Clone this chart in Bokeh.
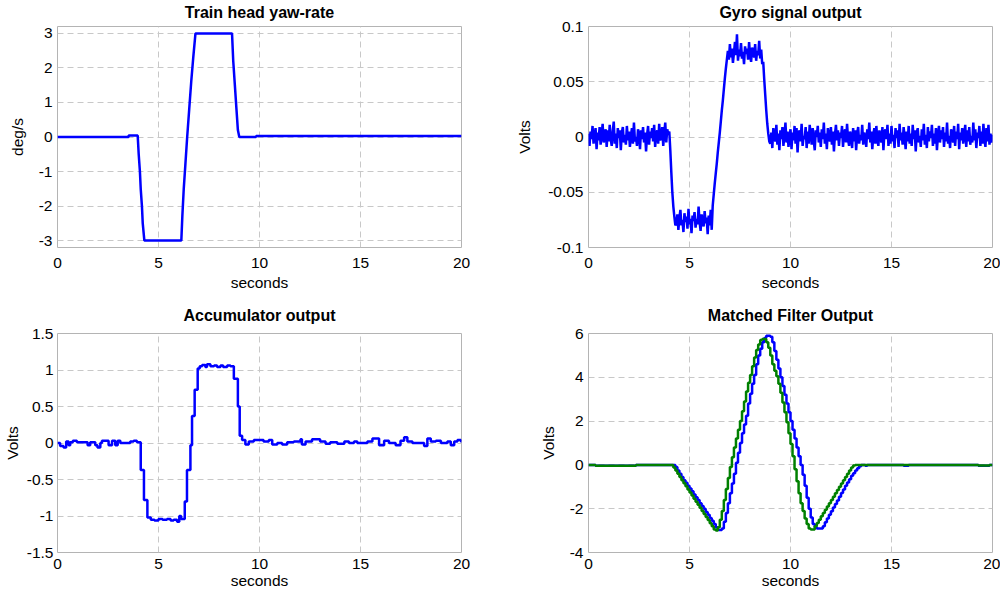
import numpy as np
from bokeh.plotting import figure
from bokeh.layouts import column, row
from bokeh.models import FixedTicker, LinearAxis
from bokeh.embed import file_html
from bokeh.resources import INLINE

# ---------------- data ----------------
x_ticks = [0, 5, 10, 15, 20]

# Train head yaw-rate (deg/s)
yaw_t = [0, 3.52, 3.52, 3.97, 4.02, 4.08, 4.12, 4.18, 4.22, 4.30,
         6.13, 6.18, 6.25, 6.33, 6.42, 6.52, 6.62, 6.72, 6.83, 8.64,
         8.70, 8.78, 8.86, 8.93, 9.0, 9.83, 9.83, 20]
yaw_v = [0, 0, 0.04, 0.04, -0.5, -1.0, -1.5, -2.0, -2.5, -3.0,
         -3.0, -2.3, -1.5, -0.8, 0.0, 0.8, 1.6, 2.3, 3.0, 3.0,
         2.2, 1.5, 0.8, 0.2, 0.0, 0.0, 0.03, 0.03]
yaw_ticks = [-3, -2, -1, 0, 1, 2, 3]
yaw_labels = ["-3", "-2", "-1", "0", "1", "2", "3"]

# Gyro signal output (mV), sampled evenly over 0..20 s
gyro_mv = [
    3, -8, 5, -2, 10, -6, 1, 8, -11, 4,
    -3, 9, -7, 2, 12, -5, 0, 7, -9, 6,
    -4, 11, -2, -8, 5, 14, -6, 3, -10, 8,
    -1, 6, -12, 4, 9, -5, 2, -7, 10, -3,
    5, -9, 1, 8, -6, 13, -4, 0, -8, 7,
    3, -11, 6, -2, 9, -5, 4, -13, 2, 10,
    -7, 5, -1, 8, -4, 11, -9, 3, 6, -6,
    12, -3, 0, 9, -8, 4, 13, -5, 7, 2,
    5, -12, -32, -50, -63, -72, -80,
    -78, -70, -84, -73, -66, -80, -75, -86, -69, -77,
    -72, -83, -65, -79, -74, -87, -71, -76, -68, -82,
    -74, -79, -63, -77, -85, -70, -76, -81, -67, -78,
    -73, -88, -71, -80, -66, -84,
    -62, -52, -42, -33, -24, -14, -5, 4, 14, 24, 33, 43, 53, 62, 70,
    78, 70, 84, 72, 80, 67, 76, 86, 74, 93,
    69, 79, 73, 85, 71, 77, 66, 82, 75, 80,
    70, 86, 74, 68, 81, 76, 72, 84, 69, 78,
    74, 87, 71, 79, 66,
    68, 52, 38, 24, 12, 3, -4,
    -6, 4, -10, 8, 1, -4, 11, -7, 3, -12,
    6, -2, 9, -8, 2, 13, -5, 5, -9, 0,
    7, -11, 4, -3, 10, -6, 8, -14, 3, 6,
    -4, 12, -8, 1, -2, 9, -10, 5, -6, 11,
    2, -7, 8, -3, -12, 6, 0, 10, -5, 4,
    -9, 7, -2, 13, -6, 3, -11, 8, 1, -4,
    9, -7, 5, -13, 2, 11, -3, 6, -8, 4,
    -1, 10, -9, 3, 7, -5, 12, -2, -8, 5,
    1, -10, 8, -4, 6, -12, 3, 9, -6, 2,
    -3, 11, -7, 4, 0, -9, 7, -2, 13, -5,
    5, -11, 2, 8, -6, 10, -3, -8, 6, 1,
    -5, 9, -12, 4, 7, -2, 11, -8, 3, -6,
    10, -4, 2, -10, 8, -1, 6, -9, 12, -3,
    4, -7, 9, 0, -11, 5, -4, 10, -6, 3,
    -8, 11, -2, 6, -13, 4, 8, -5, 1, -9,
    7, -3, 12, -7, 2, -10, 9, -4, 5, -1,
    11, -8, 3, -6, 8, -12, 2, 10, -5, 6,
    -2, 9, -9, 4, -4, 13, -6, 1, -10, 7,
    3, -5, 10, -8, 5, -2, 12, -11, 4, -3,
    8, -6, 2, 11, -9, 6, -4, 9, -7, 1,
    -5, 13, -3, 7, -10, 4, -1, 10, -8, 5,
    -6, 12, -2, -9, 8, -4, 11, -7, 3, -5,
    2,
]
gyro_ticks = [-0.1, -0.05, 0, 0.05, 0.1]
gyro_labels = ["-0.1", "-0.05", "0", "0.05", "0.1"]

# Accumulator output (V), step breakpoints
acc_t = [0.00, 0.13, 0.30, 0.43, 0.55, 0.63, 0.76, 0.96, 1.49, 1.62,
         1.87, 1.98, 2.12, 2.20, 2.53, 2.70, 2.86, 2.98, 3.11, 3.60,
         3.77, 3.93, 4.12, 4.28, 4.45, 4.62, 4.80, 5.00, 5.20, 5.42,
         5.60, 5.75, 5.92, 6.03, 6.12, 6.30, 6.41, 6.58, 6.66, 6.79,
         6.94, 7.04, 7.16, 7.32, 7.40, 7.57, 7.75, 7.90, 8.07, 8.20,
         8.40, 8.56, 8.73, 8.93, 9.02, 9.14, 9.30, 9.47, 9.72, 10.20,
         10.46, 10.63, 10.88, 11.12, 11.37, 11.70, 12.03, 12.10, 12.28, 12.60,
         13.00, 13.27, 13.50, 13.85, 14.20, 14.43, 14.68, 14.84, 15.34, 15.59,
         15.92, 16.17, 16.41, 16.74, 16.98, 17.16, 17.32, 17.57, 17.90, 18.15,
         18.31, 18.48, 18.73, 18.98, 19.30, 19.47, 19.64, 19.80, 19.97, 20.00]
acc_v = [0.00, -0.04, -0.06, 0.02, -0.03, 0.01, 0.03, 0.01, -0.03, 0.01,
         -0.03, -0.06, 0.00, 0.03, -0.03, 0.03, -0.03, 0.03, 0.00, 0.02,
         0.03, 0.01, -0.37, -0.78, -1.02, -1.05, -1.06, -1.04, -1.05, -1.04,
         -1.06, -1.05, -1.08, -1.00, -1.04, -0.80, -0.37, -0.03, 0.37, 0.73,
         1.02, 1.05, 1.07, 1.04, 1.08, 1.05, 1.06, 1.04, 1.06, 1.04,
         1.06, 1.05, 0.88, 0.50, 0.10, 0.04, -0.02, 0.02, 0.04, 0.02,
         0.04, -0.02, 0.00, -0.02, 0.01, 0.02, 0.05, -0.02, 0.02, 0.05,
         0.02, -0.01, 0.01, -0.01, 0.02, 0.00, 0.02, 0.00, 0.02, 0.06,
         -0.03, 0.03, 0.00, -0.03, 0.03, 0.08, 0.02, 0.00, 0.00, -0.04,
         0.06, 0.02, 0.03, 0.00, 0.02, -0.03, 0.02, 0.04, 0.02, 0.02]
acc_ticks = [-1.5, -1, -0.5, 0, 0.5, 1, 1.5]
acc_labels = ["-1.5", "-1", "-0.5", "0", "0.5", "1", "1.5"]

# Matched filter output (V): head, 0.1 s grid from 4.0 to 14.0, tail
mf_head_t = [0.0, 0.35, 2.35]
mf_head_blue = [0.0, -0.04, 0.0]
mf_head_green = [0.0, -0.04, 0.0]
mf_grid_start, mf_grid_step = 4.0, 0.1
mf_blue = [
    0.0, 0.0, 0.0, -0.1, -0.25, -0.4, -0.55, -0.7, -0.82, -0.95,
    -1.08, -1.2, -1.35, -1.48, -1.6, -1.75, -1.88, -2.0, -2.15, -2.28,
    -2.42, -2.55, -2.7, -2.85, -2.97, -2.97, -2.9, -2.6, -2.2, -1.75,
    -1.3, -0.85, -0.4, 0.1, 0.55, 1.0, 1.45, 1.85, 2.25, 2.8,
    3.25, 3.7, 4.1, 4.6, 5.0, 5.3, 5.6, 5.8, 5.9, 5.9,
    5.85, 5.6, 5.2, 4.8, 4.4, 4.0, 3.6, 3.2, 2.8, 2.4,
    2.0, 1.6, 1.2, 0.8, 0.4, 0.0, -0.45, -0.95, -1.5, -2.0,
    -2.4, -2.7, -2.85, -2.9, -2.9, -2.9, -2.8, -2.62, -2.45, -2.28,
    -2.12, -1.95, -1.78, -1.62, -1.45, -1.28, -1.12, -0.95, -0.8, -0.65,
    -0.5, -0.38, -0.26, -0.15, -0.06, 0.0, 0.0, -0.04, 0.0, 0.0,
    0.0,
]
mf_green = [
    0.0, 0.0, -0.12, -0.26, -0.4, -0.55, -0.7, -0.84, -0.98, -1.12,
    -1.26, -1.4, -1.54, -1.68, -1.82, -1.96, -2.1, -2.24, -2.38, -2.52,
    -2.66, -2.8, -2.95, -3.0, -2.85, -2.5, -2.1, -1.6, -1.1, -0.6,
    -0.1, 0.35, 0.8, 1.2, 1.6, 2.0, 2.45, 2.9, 3.35, 3.75,
    4.1, 4.5, 4.9, 5.25, 5.5, 5.7, 5.75, 5.75, 5.6, 5.35,
    5.0, 4.6, 4.3, 4.05, 3.7, 3.3, 2.85, 2.4, 1.95, 1.45,
    0.95, 0.4, -0.2, -0.75, -1.3, -1.75, -2.1, -2.45, -2.7, -2.9,
    -2.95, -2.95, -2.8, -2.65, -2.5, -2.35, -2.2, -2.05, -1.9, -1.75,
    -1.6, -1.45, -1.3, -1.15, -1.0, -0.85, -0.7, -0.55, -0.4, -0.25,
    -0.12, -0.03, 0.0, 0.0, 0.0, 0.0, 0.0, 0.0, 0.0, 0.0,
    0.0,
]
mf_tail_t = [15.6, 15.85, 19.3, 19.85, 20.0]
mf_tail_blue = [-0.04, 0.0, -0.04, 0.0, 0.0]
mf_tail_green = [0.0, 0.0, -0.03, 0.0, 0.0]
mf_ticks = [-4, -2, 0, 2, 4, 6]
mf_labels = ["-4", "-2", "0", "2", "4", "6"]

titles = ["Train head yaw-rate", "Gyro signal output",
          "Accumulator output", "Matched Filter Output"]

# ---------------- styling ----------------
FONT = "Liberation Sans"
BLUE = "#0000ff"
GREEN = "#008000"
GRID = "#c8c8c8"
BOX = "#b4b4b4"
TICK_FS = "15.5px"


def key(v):
    return int(v) if float(v).is_integer() else float(v)


def make_fig(title, width, height, bl, br, bt, bb, yr, yticks, ylabels, ylabel,
             title_gap, label_standoff=10, tick_standoff=5,
             x_tick_standoff=4, x_label_standoff=4):
    p = figure(width=width, height=height, x_range=(0, 20), y_range=yr,
               toolbar_location=None, output_backend="svg",
               min_border_left=bl, min_border_right=br,
               min_border_top=bt, min_border_bottom=bb)
    p.background_fill_color = "white"
    p.border_fill_color = "white"
    # panel title: label of a tick-less axis above the box, title_gap px from it
    tax = LinearAxis(ticker=FixedTicker(ticks=[]), axis_label=title,
                     axis_line_color=None, major_tick_line_color=None,
                     minor_tick_line_color=None,
                     major_tick_out=0, major_tick_in=0,
                     minor_tick_out=0, minor_tick_in=0,
                     major_label_standoff=0, axis_label_standoff=title_gap,
                     axis_label_text_font=FONT, axis_label_text_font_size="16px",
                     axis_label_text_font_style="bold",
                     axis_label_text_color="black")
    p.add_layout(tax, "above")
    xax = p.below[0]
    yax = p.left[0]
    xax.ticker = FixedTicker(ticks=x_ticks)
    xax.major_label_overrides = {key(v): str(v) for v in x_ticks}
    yax.ticker = FixedTicker(ticks=yticks)
    yax.major_label_overrides = {key(v): s for v, s in zip(yticks, ylabels)}
    xax.axis_label = "seconds"
    yax.axis_label = ylabel
    for ax in (xax, yax):
        ax.axis_line_color = None
        ax.major_tick_line_color = None
        ax.minor_tick_line_color = None
        ax.major_tick_out = 0
        ax.major_tick_in = 0
        ax.minor_tick_out = 0
        ax.minor_tick_in = 0
        ax.major_label_text_font = FONT
        ax.major_label_text_font_size = TICK_FS
        ax.major_label_text_color = "black"
        ax.axis_label_text_font = FONT
        ax.axis_label_text_font_size = TICK_FS
        ax.axis_label_text_font_style = "normal"
        ax.axis_label_text_color = "black"
    xax.major_label_standoff = x_tick_standoff
    xax.axis_label_standoff = x_label_standoff
    yax.major_label_standoff = tick_standoff
    yax.axis_label_standoff = label_standoff
    for g in (p.xgrid[0], p.ygrid[0]):
        g.grid_line_color = GRID
        g.grid_line_dash = "6 4"
        g.grid_line_width = 1
    p.xgrid[0].ticker = FixedTicker(ticks=x_ticks)
    p.ygrid[0].ticker = FixedTicker(ticks=yticks)
    p.outline_line_color = BOX
    p.outline_line_width = 1
    p.outline_line_alpha = 1.0
    return p


TOP_H, BOT_H = 300, 294
L_W, R_W = 500, 500

p1 = make_fig(titles[0], L_W, TOP_H, 57, 39, 25, 53,
              (-3.2, 3.2), yaw_ticks, yaw_labels, "deg/s", title_gap=6,
              x_tick_standoff=10, x_label_standoff=3)
p1.line(yaw_t, yaw_v, line_color=BLUE, line_width=2.5)

gyro_v = np.array(gyro_mv, dtype=float) / 1000.0
gyro_t = np.linspace(0, 20, len(gyro_v))
p2 = make_fig(titles[1], R_W, TOP_H, 88, 8, 25, 53,
              (-0.1, 0.1), gyro_ticks, gyro_labels, "Volts", title_gap=6,
              label_standoff=12, x_tick_standoff=10, x_label_standoff=3)
p2.line(gyro_t, gyro_v, line_color=BLUE, line_width=2.5)

n = min(len(acc_t), len(acc_v))
p3 = make_fig(titles[2], L_W, BOT_H, 57, 39, 33, 42,
              (-1.5, 1.5), acc_ticks, acc_labels, "Volts", title_gap=10,
              label_standoff=3, tick_standoff=4,
              x_tick_standoff=6, x_label_standoff=0)
p3.step(acc_t[:n], acc_v[:n], mode="after", line_color=BLUE, line_width=2.5)

mf_grid_t = list(np.round(mf_grid_start + mf_grid_step * np.arange(len(mf_blue)), 2))
mf_t = mf_head_t + mf_grid_t + mf_tail_t
mf_b = mf_head_blue + mf_blue + mf_tail_blue
mf_g = mf_head_green + mf_green + mf_tail_green
p4 = make_fig(titles[3], R_W, BOT_H, 88, 8, 33, 42,
              (-4, 6), mf_ticks, mf_labels, "Volts", title_gap=10,
              label_standoff=10, x_tick_standoff=6, x_label_standoff=0)
p4.step(mf_t, mf_b, mode="after", line_color=BLUE, line_width=2.5)
p4.step(mf_t, mf_g, mode="after", line_color=GREEN, line_width=2.5)

layout = column(row(p1, p2), row(p3, p4))
open("out.html", "w").write(file_html(layout, INLINE))
